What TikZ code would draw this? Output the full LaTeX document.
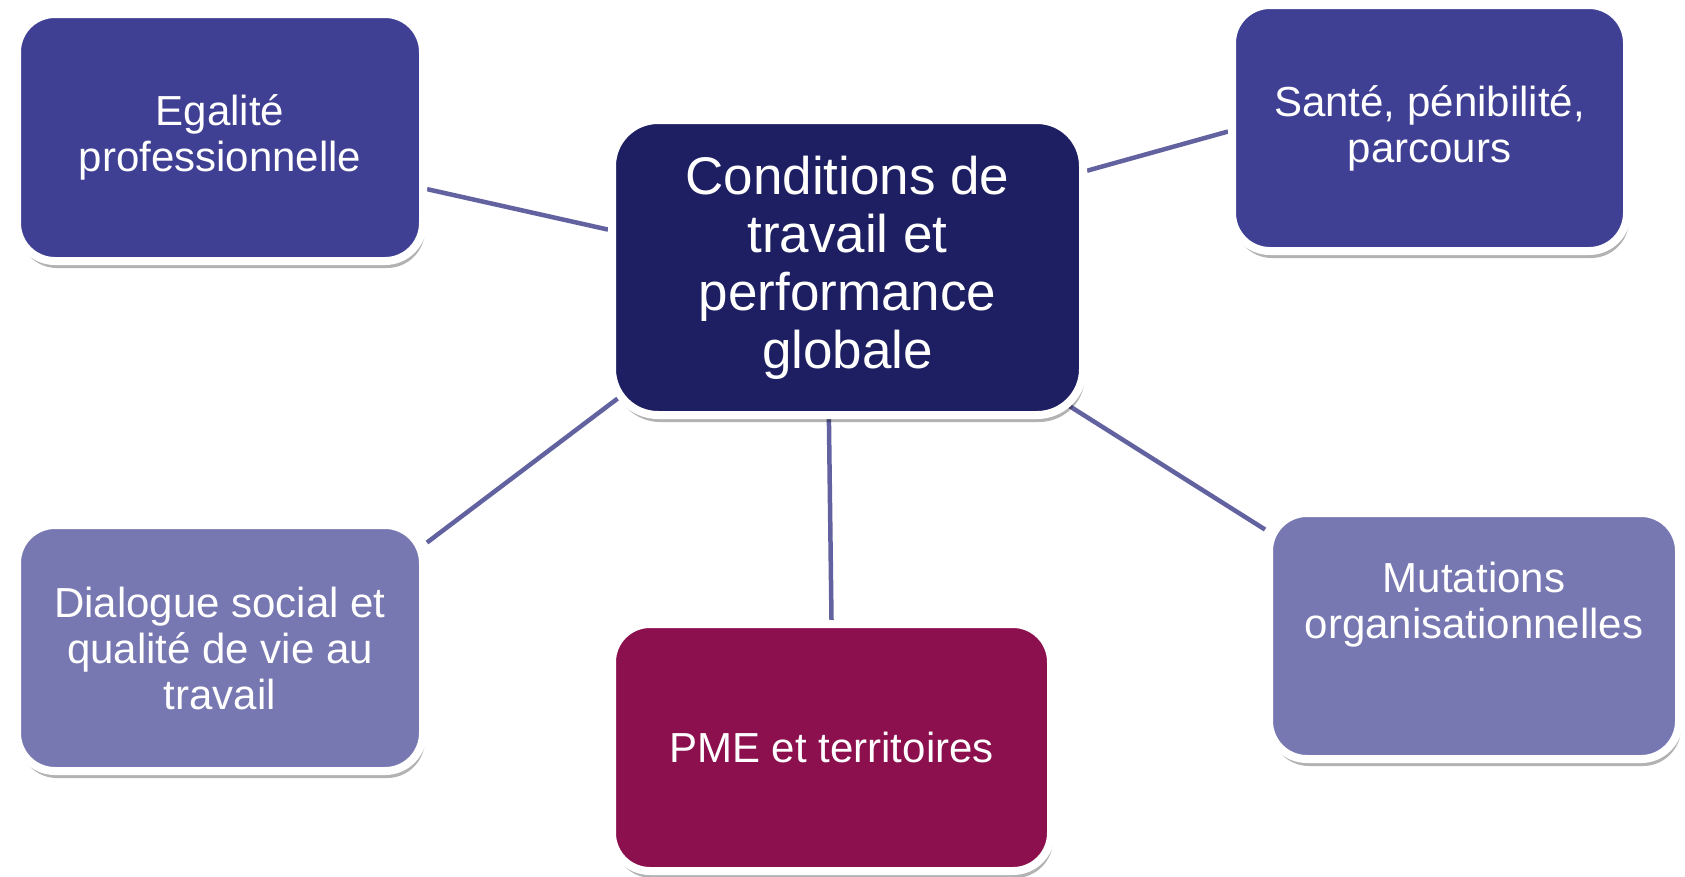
\documentclass[tikz,border=0pt]{standalone}
\usepackage{fontspec}
\setmainfont{Liberation Sans}
\usetikzlibrary{shadows,backgrounds}
\definecolor{navy}{HTML}{1E1E62}
\definecolor{indigo}{HTML}{3F3F94}
\definecolor{lavender}{HTML}{7777B2}
\definecolor{plum}{HTML}{8B104D}
\definecolor{linkcol}{HTML}{6262A0}
\tikzstyle{box}=[rectangle, rounded corners=38pt, draw=white, line width=8pt, text=white, align=center, inner sep=0pt,
  drop shadow={shadow xshift=2pt, shadow yshift=-7pt, opacity=0.3, fill=black},
  font=\fontsize{42}{46}\selectfont]
\tikzstyle{hub}=[box, fill=navy, rounded corners=46pt, font=\fontsize{53}{58}\selectfont]
\tikzstyle{topic}=[box, fill=indigo]
\tikzstyle{soft}=[box, fill=lavender]
\tikzstyle{field}=[box, fill=plum]
\tikzstyle{boxtext}=[text=white, align=center, inner sep=0pt, font=\fontsize{42}{46}\selectfont]
\tikzstyle{link}=[draw=linkcol, line width=4.5pt]

\begin{document}
\begin{tikzpicture}[x=1pt, y=-1pt]
    \useasboundingbox (0,0) rectangle (1685,876);
    \node[hub, minimum width=471, minimum height=295] (cen) at (847.5, 267.5) {Conditions de\\travail et\\performance\\globale};
    \node[topic, minimum width=406, minimum height=247] (ega) at (220,    137.5) {Egalité\\professionnelle};
    \node[topic, minimum width=395, minimum height=246] (san) at (1429.5, 128)   {Santé, pénibilité,\\parcours};
    \node[soft,  minimum width=406, minimum height=246] (dia) at (220,    648)   {Dialogue social et\\qualité de vie au\\travail};
    \node[field, minimum width=439, minimum height=247] (pme) at (831.5,  747.5) {PME et territoires};
    \node[soft,  minimum width=410, minimum height=246] (mut) at (1474,   636)   {};
    \node[boxtext] (mut-t) at ([yshift=31pt]mut.center) {Mutations\\organisationnelles};
    \begin{pgfonlayer}{background}
        \draw[link] (ega.-14)   -- (cen.171);
        \draw[link] (cen.22)    -- (san.181);
        \draw[link, shorten >=-40pt] (dia.27.5)  -- (cen.210.4);
        \draw[link] (cen.263)   -- (pme.north);
        \draw[link, shorten <=-40pt] (cen.-32)   -- (mut.153);
    \end{pgfonlayer}
\end{tikzpicture}
\end{document}
